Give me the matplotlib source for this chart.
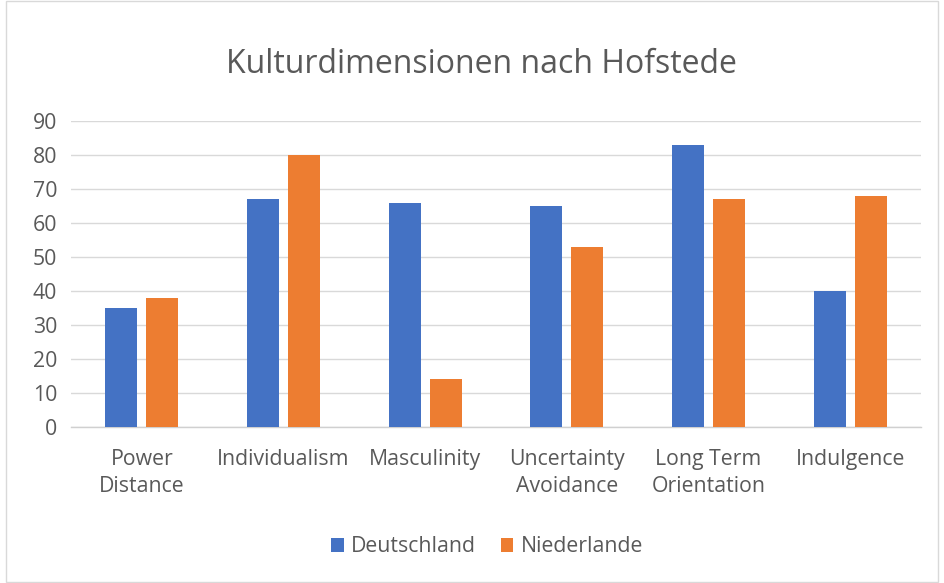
import matplotlib
matplotlib.use("Agg")
import matplotlib.pyplot as plt
import numpy as np
from matplotlib.patches import Rectangle

categories = ["Power\nDistance", "Individualism", "Masculinity", "Uncertainty\nAvoidance", "Long Term\nOrientation", "Indulgence"]
deutschland = [35, 67, 66, 65, 83, 40]
niederlande = [38, 80, 14, 53, 67, 68]
yticks = [0, 10, 20, 30, 40, 50, 60, 70, 80, 90]

plt.rcParams['font.family'] = ['Open Sans', 'DejaVu Sans']
txt = '#595959'
fs = 15.3

fig = plt.figure(figsize=(9.44, 5.83), dpi=100)
W, H = 944, 583
ax = fig.add_axes([71 / W, 1 - 427 / H, 850 / W, (427 - 121) / H])

x = np.arange(len(categories))
bw = 0.226
off = 0.145
ax.bar(x - off, deutschland, bw, color='#4472C4', label='Deutschland', zorder=3)
ax.bar(x + off, niederlande, bw, color='#ED7D31', label='Niederlande', zorder=3)

ax.set_xlim(-0.5, len(categories) - 0.5)
ax.set_ylim(0, 90)
ax.set_yticks(yticks)
ax.set_xticks(x)
ax.set_xticklabels(categories, color=txt, fontsize=fs, linespacing=1.38)
ax.tick_params(axis='y', colors=txt, labelsize=fs, length=0, pad=10)
ax.tick_params(axis='x', length=0, pad=16)
for t in ax.get_yticklabels():
    t.set_color(txt)
ax.grid(axis='y', color='#d9d9d9', linewidth=1, zorder=0)
for s in ['top', 'right', 'left']:
    ax.spines[s].set_visible(False)
ax.spines['bottom'].set_color('#d0d0d0')
ax.spines['bottom'].set_linewidth(1)

fig.text(481 / W, 1 - 64.5 / H, "Kulturdimensionen nach Hofstede", ha='center', va='center',
         fontsize=23, color=txt)

leg = fig.legend(loc='center', bbox_to_anchor=(487 / W, 1 - 547 / H), ncol=2, frameon=False,
                 fontsize=fs, handlelength=0.61, handleheight=0.61, columnspacing=1.15,
                 handletextpad=0.33)
for t in leg.get_texts():
    t.set_color(txt)

fig.patches.append(Rectangle((6 / W, 1 / H), (938 - 6) / W, (582 - 1) / H, transform=fig.transFigure,
                             fill=False, edgecolor='#d9d9d9', linewidth=1))

fig.savefig("out.png", dpi=100, facecolor='white')
